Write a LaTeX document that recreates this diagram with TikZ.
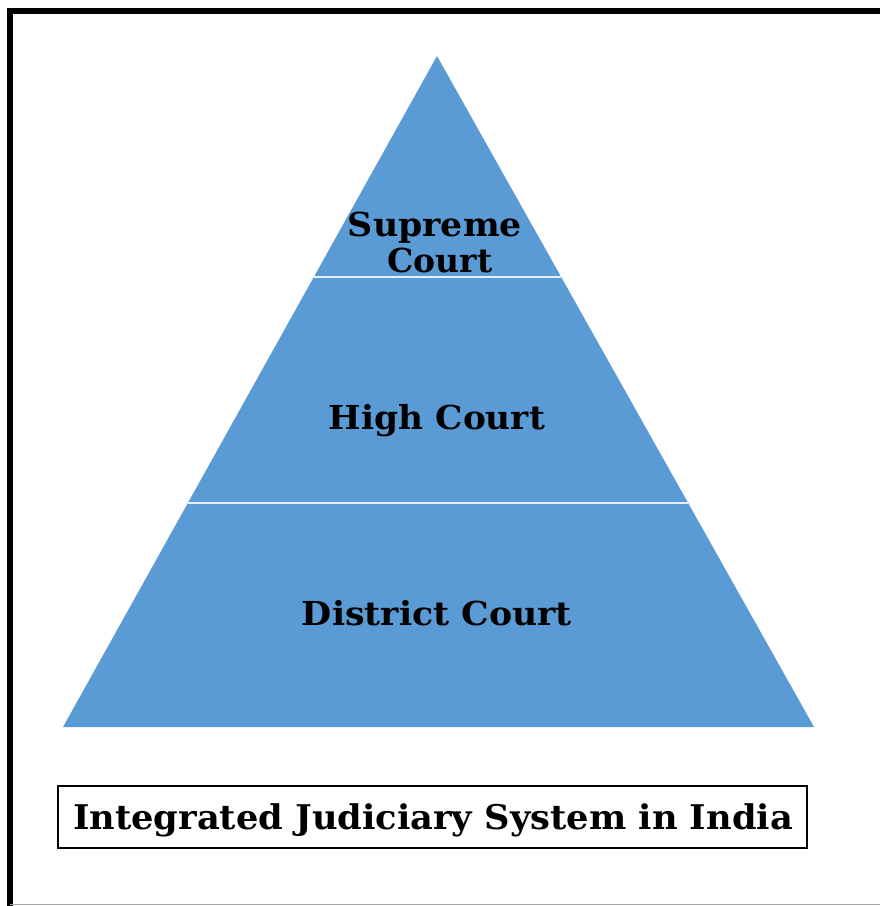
\documentclass[tikz,border=0pt]{standalone}
\usepackage{fontspec}
\setmainfont{DejaVu Serif}
\usetikzlibrary{calc}
\definecolor{pyrblue}{HTML}{5B9BD5}
\definecolor{sepline}{HTML}{E6F0FA}
\newcommand\fitw[2]{\resizebox{#1}{\height}{#2}}
\tikzset{
  lbl/.style={inner sep=0pt, anchor=base, font=\fontsize{33}{36}\selectfont\bfseries, text=black},
  titlelbl/.style={inner sep=0pt, anchor=base, font=\fontsize{34}{38}\selectfont\bfseries, text=black},
  frameline/.style={line width=6pt, black},
  sep/.style={line width=2pt, sepline},
  titlebox/.style={draw=black, line width=1.6pt, fill=white}
}
\begin{document}
\begin{tikzpicture}[x=1pt,y=-1pt]
  \useasboundingbox (0,0) rectangle (880,906);
  \fill[white] (0,0) rectangle (880,906);
  % outer frame
  \draw[frameline] (7,11) -- (880,11);
  \draw[frameline] (10.3,8) -- (10.3,906);
  \draw[gray!70, line width=1.5pt] (10,904.5) -- (880,904.5);
  % pyramid
  \coordinate (apex) at (437,56);
  \coordinate (bl) at (63,727);
  \coordinate (br) at (814,727);
  \fill[pyrblue] (apex) -- (br) -- (bl) -- cycle;
  \coordinate (s1l) at ($(apex)!0.3294!(bl)$);
  \coordinate (s1r) at ($(apex)!0.3294!(br)$);
  \coordinate (s2l) at ($(apex)!0.6669!(bl)$);
  \coordinate (s2r) at ($(apex)!0.6669!(br)$);
  \draw[sep] (s1l) -- (s1r);
  \draw[sep] (s2l) -- (s2r);
  % labels
  \node[lbl] (sup1) at (435,236) {\fitw{174pt}{Supreme}};
  \node[lbl] (sup2) at (440,272) {\fitw{105pt}{Court}};
  \node[lbl] (high) at (437,429) {\fitw{216pt}{High Court}};
  \node[lbl] (dist) at (437,625) {\fitw{270pt}{District Court}};
  % title
  \draw[titlebox] (58,786) rectangle (807,848);
  \node[titlelbl] (title) at (433,829) {\fitw{720pt}{Integrated Judiciary System in India}};
\end{tikzpicture}
\end{document}
